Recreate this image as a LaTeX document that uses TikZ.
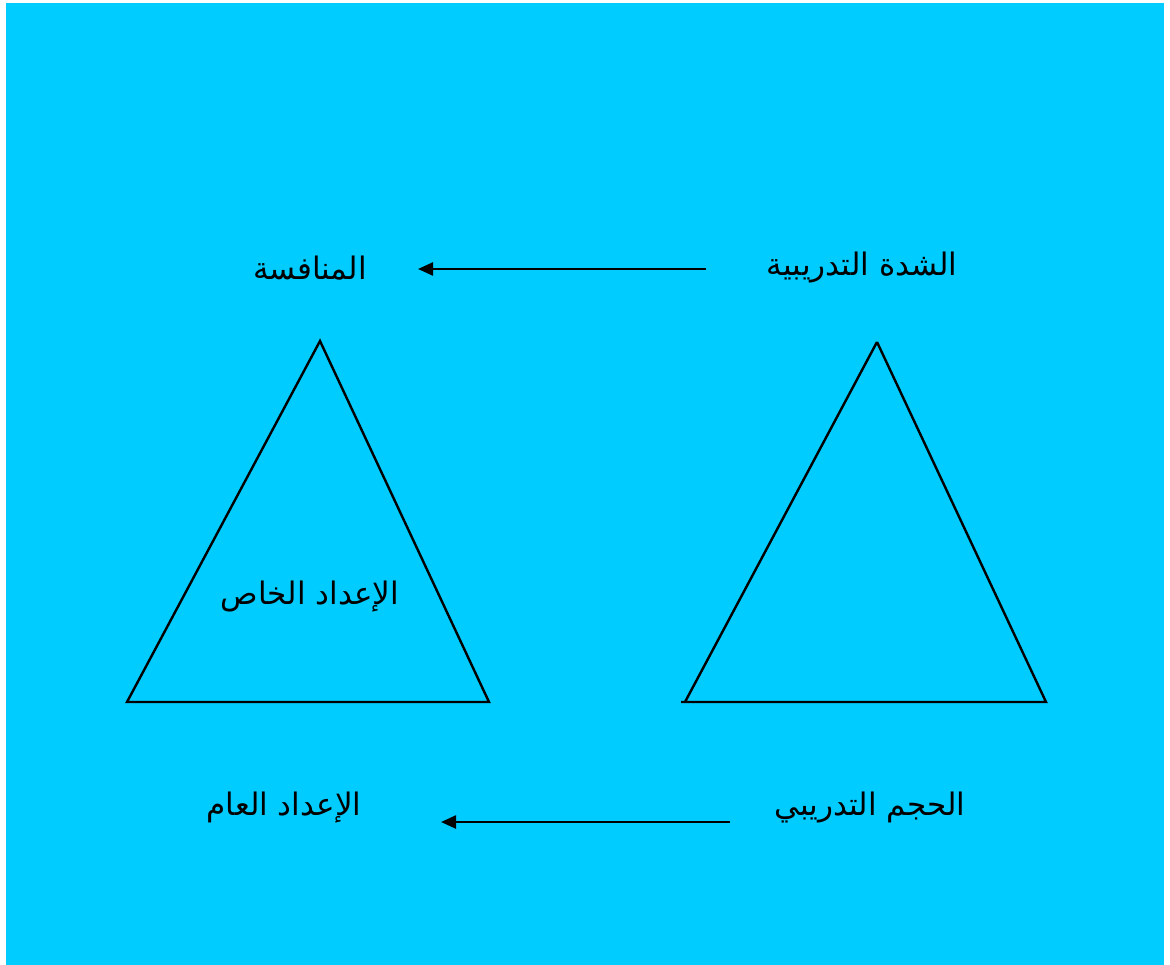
\documentclass[tikz,border=0pt]{standalone}
\usepackage{fontspec}
\usepackage{tikz}
\usetikzlibrary{arrows.meta}
\newfontfamily\arabicfont[Script=Arabic]{DejaVu Sans}
\TeXXeTstate=1
\definecolor{colSky}{RGB}{0,204,255}

\begin{document}
\begin{tikzpicture}[
  x=1pt, y=-1pt,
  lbl/.style={font=\arabicfont\fontsize{31}{36}\selectfont, inner sep=0pt},
  arr/.style={-{Triangle[length=15pt,width=13pt]}, line width=2.4pt},
  tri/.style={line width=2.4pt, line join=miter},
]
\useasboundingbox (0,0) rectangle (1170,965);
\fill[white] (0,0) rectangle (1170,965);
\fill[colSky] (6,3) rectangle (1164,965);

% labels
\node[lbl] (comp) at (310,268) {\beginR المنافسة\endR};
\node[lbl] (intens) at (862,268) {\beginR الشدة التدريبية\endR};
\node[lbl] (special) at (310,597) {\beginR الإعداد الخاص\endR};
\node[lbl] (general) at (284,808) {\beginR الإعداد العام\endR};
\node[lbl] (volume) at (870,808) {\beginR الحجم التدريبي\endR};

% arrow ends
\coordinate (topR) at (706,269);
\coordinate (topL) at (418,269);
\coordinate (botR) at (730,822);
\coordinate (botL) at (441,822);
\draw[arr] (topR) -- (topL);
\draw[arr] (botR) -- (botL);

% triangles
\draw[tri] (320,341) -- (489,702) -- (127,702) -- cycle;
\draw[tri] (877,342) -- (1046,702) -- (681,702) (685,702) -- (877,342);

\end{tikzpicture}
\end{document}
